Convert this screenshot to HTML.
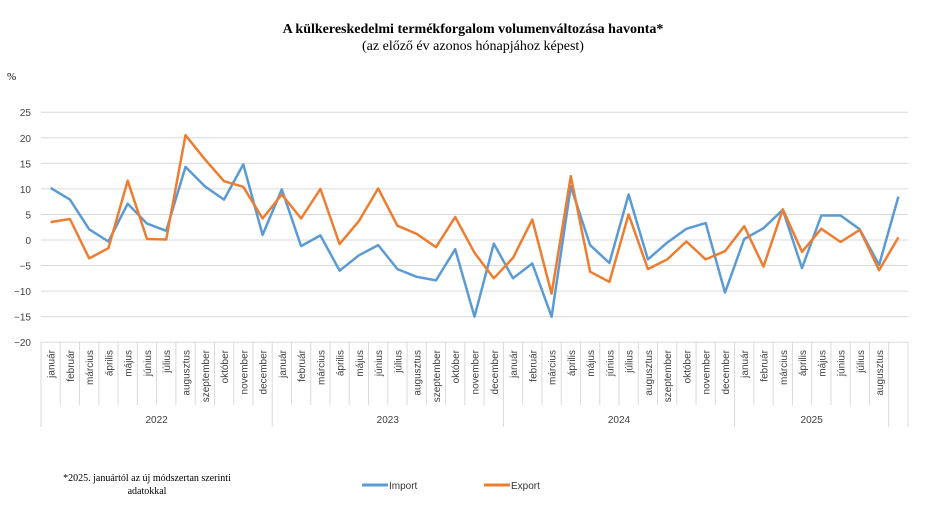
<!DOCTYPE html>
<html><head><meta charset="utf-8"><style>
body{margin:0;background:#fff;width:946px;height:517px;overflow:hidden}
svg{display:block}
</style></head><body>
<svg id="c" width="946" height="517" xmlns="http://www.w3.org/2000/svg">
<text x="473" y="33" text-anchor="middle" font-family="Liberation Serif, serif" font-weight="bold" font-size="14">A külkereskedelmi termékforgalom volumenváltozása havonta*</text>
<text x="473" y="50" text-anchor="middle" font-family="Liberation Serif, serif" font-size="14">(az előző év azonos hónapjához képest)</text>
<text x="7" y="80" font-family="Liberation Serif, serif" font-size="11">%</text>
<text x="147" y="481" text-anchor="middle" font-family="Liberation Serif, serif" font-size="10">*2025. januártól az új módszertan szerinti</text>
<text x="147" y="494" text-anchor="middle" font-family="Liberation Serif, serif" font-size="10">adatokkal</text>
<line x1="362" y1="485" x2="388" y2="485" stroke="#5b9bd5" stroke-width="3"/>
<text x="389" y="489" font-family="Liberation Sans, sans-serif" font-size="10" fill="#333">Import</text>
<line x1="484" y1="485" x2="510" y2="485" stroke="#ed7d31" stroke-width="3"/>
<text x="511" y="489" font-family="Liberation Sans, sans-serif" font-size="10" fill="#333">Export</text>
<g id="g"></g>
</svg>
<script>
const g=document.getElementById('g');let s='';
const L=41,R=908,W=(R-L)/45,y=v=>240-v*5.111;
for(let v=-20;v<=25;v+=5){s+=`<line x1="${L}" x2="${R}" y1="${y(v)}" y2="${y(v)}" stroke="#d9d9d9" stroke-width="1"/>`;
s+=`<text x="31" y="${y(v)+4}" text-anchor="end" font-family="Liberation Sans, sans-serif" font-size="10" fill="#404040">${v<0?'−'+(-v):v}</text>`;}
const m=['január','február','március','április','május','június','július','augusztus','szeptember','október','november','december'];
for(let i=0;i<=45;i++){const x=L+i*W;const yr=(i%12==0||i==45||i==44);s+=`<line x1="${x}" x2="${x}" y1="342" y2="${yr?427:405}" stroke="#d9d9d9"/>`;}
for(let i=0;i<44;i++){const x=L+(i+0.5)*W+4;s+=`<text transform="translate(${x},350) rotate(-90)" text-anchor="end" font-family="Liberation Sans, sans-serif" font-size="10" fill="#404040">${m[i%12]}</text>`;}
[[0,12,'2022'],[12,24,'2023'],[24,36,'2024'],[36,44,'2025']].forEach(a=>{s+=`<text x="${L+(a[0]+a[1])/2*W}" y="423" text-anchor="middle" font-family="Liberation Sans, sans-serif" font-size="10" fill="#404040">${a[2]}</text>`});
const imp=[10.2,7.9,2.1,-0.3,7.1,3.2,1.8,14.3,10.5,7.9,14.8,1.0,9.9,-1.2,0.9,-6.0,-3.0,-1.0,-5.7,-7.2,-7.9,-1.8,-15.0,-0.7,-7.5,-4.6,-15.0,10.5,-1.0,-4.5,8.9,-3.8,-0.5,2.2,3.3,-10.3,0.2,2.3,5.9,-5.5,4.8,4.8,2.1,-4.9,8.5];
const exp=[3.5,4.1,-3.6,-1.6,11.6,0.2,0.1,20.5,15.8,11.5,10.4,4.2,8.9,4.2,10.0,-0.8,3.7,10.1,2.8,1.2,-1.4,4.5,-2.5,-7.5,-3.5,4.0,-10.5,12.5,-6.2,-8.2,5.0,-5.7,-3.8,-0.3,-3.8,-2.2,2.7,-5.2,6.0,-2.3,2.2,-0.4,2.0,-5.9,0.5];
const p=d=>d.map((v,i)=>`${(L+(i+0.5)*W).toFixed(1)},${y(v).toFixed(1)}`).join(' ');
s+=`<polyline points="${p(imp)}" fill="none" stroke="#5b9bd5" stroke-width="2.5" stroke-linejoin="round"/>`;
s+=`<polyline points="${p(exp)}" fill="none" stroke="#ed7d31" stroke-width="2.5" stroke-linejoin="round"/>`;
g.innerHTML=s;
</script>
</body></html>
